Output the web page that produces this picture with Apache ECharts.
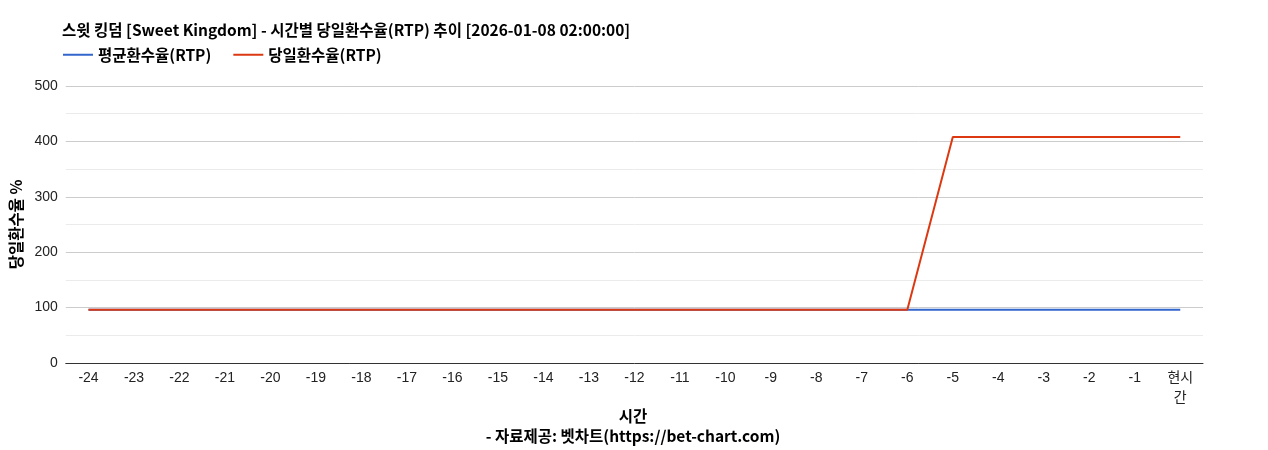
<!DOCTYPE html>
<html><head><meta charset="utf-8">
<script src="https://cdn.jsdelivr.net/npm/echarts@6/dist/echarts.min.js"></script>
<style>html,body{margin:0;padding:0;background:#fff}#c{width:1268px;height:450px}</style>
</head><body><div id="c"></div>
<script>
var categories = ['-24','-23','-22','-21','-20','-19','-18','-17','-16','-15','-14','-13','-12','-11','-10','-9','-8','-7','-6','-5','-4','-3','-2','-1','현시간'];
var avgRTP = [96,96,96,96,96,96,96,96,96,96,96,96,96,96,96,96,96,96,96,96,96,96,96,96,96];
var dailyRTP = [96,96,96,96,96,96,96,96,96,96,96,96,96,96,96,96,96,96,96,408,408,408,408,408,408];
var yTicks = [0,100,200,300,400,500];
var cjk = '"Noto Sans CJK KR","Liberation Sans",Arial,sans-serif';
var lat = '"Liberation Sans",Arial,"Noto Sans CJK KR",sans-serif';
var chart = echarts.init(document.getElementById('c'));
chart.setOption({
  animation:false,
  title:{text:'스윗 킹덤 [Sweet Kingdom] - 시간별 당일환수율(RTP) 추이 [2026-01-08 02:00:00]',left:57,top:17,
    textStyle:{fontFamily:cjk,fontSize:15.5,fontWeight:'bold',color:'#000'}},
  legend:{left:58,top:42,icon:'rect',itemWidth:30,itemHeight:2,itemGap:22,
    textStyle:{fontFamily:cjk,fontSize:15.5,fontWeight:'bold',color:'#000'},
    data:['평균환수율(RTP)','당일환수율(RTP)']},
  grid:{left:63,right:65,top:86,bottom:87,containLabel:false},
  xAxis:{type:'category',data:categories,boundaryGap:true,
    axisLine:{lineStyle:{color:'#333',width:1}},axisTick:{show:false},
    axisLabel:{interval:0,color:'#222',fontFamily:lat,fontSize:14,margin:5,lineHeight:20,
      formatter:function(v){return v==='현시간'?'현시\n간':v;}}},
  yAxis:{type:'value',min:yTicks[0],max:yTicks[yTicks.length-1],interval:100,
    name:'당일환수율 %',nameLocation:'middle',nameRotate:90,nameGap:38,
    nameTextStyle:{fontFamily:cjk,fontSize:15.5,fontWeight:'bold',color:'#000'},
    axisLine:{show:false},axisTick:{show:false},
    axisLabel:{color:'#222',fontFamily:lat,fontSize:14,margin:8},
    splitLine:{lineStyle:{color:'#ccc',width:1}},
    minorTick:{show:false,splitNumber:2},
    minorSplitLine:{show:true,lineStyle:{color:'#ebebeb',width:1}}},
  graphic:[
    {type:'text',x:633,y:408,style:{text:'시간',textAlign:'center',font:'bold 15.5px "Noto Sans CJK KR"',fill:'#000'}},
    {type:'text',x:633,y:428,style:{text:'- 자료제공: 벳차트(https://bet-chart.com)',textAlign:'center',font:'bold 15.5px "Noto Sans CJK KR"',fill:'#000'}}
  ],
  series:[
    {name:'평균환수율(RTP)',type:'line',data:avgRTP,symbol:'none',lineStyle:{color:'#3366cc',width:2},itemStyle:{color:'#3366cc'}},
    {name:'당일환수율(RTP)',type:'line',data:dailyRTP,symbol:'none',lineStyle:{color:'#dc3912',width:2},itemStyle:{color:'#dc3912'}}
  ]
});
</script></body></html>
